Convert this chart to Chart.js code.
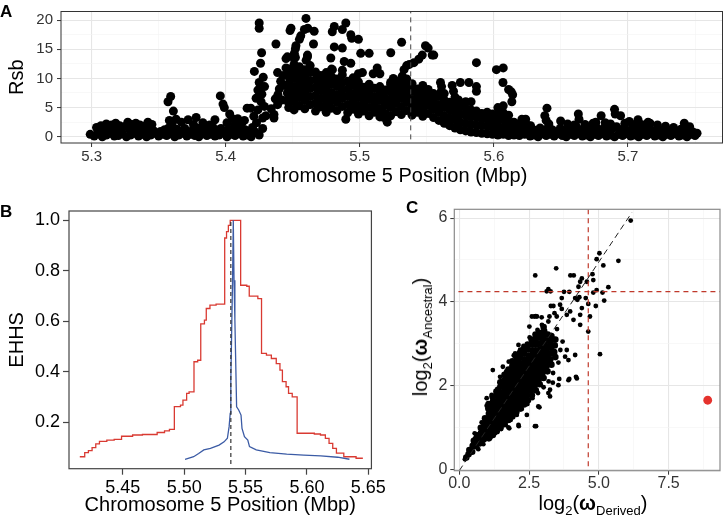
<!DOCTYPE html>
<html>
<head>
<meta charset="utf-8">
<script src="https://cdn.jsdelivr.net/npm/chart.js@4.4.1/dist/chart.umd.min.js"></script>
<style>
  body { margin: 0; background: #fff; font-family: "Liberation Sans", Arial, Helvetica, sans-serif; }
  #page { position: relative; width: 727px; height: 518px; overflow: hidden; background: #fff; }
  canvas, .lbl, .ttl { position: absolute; }
  .lbl { font-weight: bold; font-size: 17px; line-height: 17px; color: #000; }
  .ttl { font-size: 20px; line-height: 20px; color: #000; white-space: nowrap; }
  .ttl sub { font-size: 13px; vertical-align: -5px; line-height: 0; }
</style>
</head>
<body>
<div id="page">
  <canvas id="chartA" width="727" height="192" style="left:0px;top:0px"></canvas>
  <canvas id="chartB" width="390" height="326" style="left:0px;top:192px"></canvas>
  <canvas id="chartC" width="337" height="326" style="left:390px;top:192px"></canvas>
  <div class="lbl" style="left:0px;top:3px">A</div>
  <div class="lbl" style="left:0px;top:203px">B</div>
  <div class="lbl" style="left:406px;top:199px">C</div>
  <div class="ttl" style="left:593px;top:493px;transform:translateX(-50%)">log<sub>2</sub>(<b>ω</b><sub>Derived</sub>)</div>
  <div class="ttl" style="left:420px;top:337px;transform:translate(-50%,-50%) rotate(-90deg)">log<sub>2</sub>(<b>ω</b><sub>Ancestral</sub>)</div>
</div>
<script>
// ---------- panel A : Rsb along chromosome 5 ----------
const aXMajor = [5.3, 5.4, 5.5, 5.6, 5.7];
const aXMinor = [5.35, 5.45, 5.55, 5.65, 5.75];
const aYMajor = [0, 5, 10, 15, 20];
const aYMinor = [2.5, 7.5, 12.5, 17.5];
const focalPos = 5.538;

const rsbBandLeft = [
  [5.299,0.4],[5.302,0.1],[5.305,0.5],[5.308,0.0],[5.311,0.3],[5.314,0.6],[5.317,0.1],[5.320,0.2],[5.323,0.5],[5.326,0.0],
  [5.329,0.3],[5.332,0.6],[5.335,0.1],[5.338,0.4],[5.341,0.0],[5.344,0.3],[5.347,0.6],[5.350,0.1],[5.353,0.4],[5.356,0.2],
  [5.359,0.5],[5.362,0.0],[5.365,0.3],[5.368,0.6],[5.371,0.1],[5.374,0.4],[5.377,0.2],[5.380,0.0],[5.383,0.5],[5.386,0.2],
  [5.389,0.4],[5.392,0.1],[5.395,0.3],[5.398,0.6],[5.401,0.0],[5.404,0.4],[5.407,0.2],[5.410,0.5],[5.413,0.1],[5.416,0.3],[5.419,0.0],
  [5.3037,1.6],[5.3045,1.3],[5.3075,0.9],[5.3105,1.5],[5.3135,1.1],[5.3165,1.7],[5.3195,1.0],[5.3225,1.4],[5.3255,1.8],[5.3285,1.2],
  [5.3315,1.6],[5.3345,0.9],[5.3375,1.5],[5.3405,1.2],[5.3435,1.7],[5.3465,1.0],
  [5.307,1.9],[5.311,2.2],[5.315,2.0],[5.318,2.3],[5.321,1.9],[5.327,2.5],[5.330,2.1],[5.333,2.3],[5.336,2.0],[5.339,1.8],
  [5.342,2.5],[5.345,2.1],
  [5.3515,0.9],[5.3545,1.2],[5.3575,1.5],[5.3605,0.8],[5.3635,1.3],[5.3665,1.0],[5.3695,1.4],[5.3725,0.7],[5.3755,1.2],[5.3785,1.5],
  [5.3815,0.9],[5.3845,1.3],[5.3875,1.0],[5.3905,1.6],[5.3935,1.1],[5.3965,1.4],[5.3995,0.8],[5.4025,1.3],[5.4055,1.0],[5.4085,1.5],
  [5.4115,0.9],[5.4145,1.2],[5.4175,0.7],
  [5.357,6.0],[5.359,6.9],[5.361,4.4],[5.358,2.8],[5.360,2.2],[5.363,3.0],[5.367,2.5],[5.372,2.9],[5.378,3.3],[5.376,2.1],
  [5.383,2.4],[5.388,2.0],[5.392,2.9],[5.396,7.0],[5.398,5.6],[5.399,5.0],[5.403,3.9],[5.405,3.1],[5.409,3.1],[5.401,2.4],
  [5.407,2.0],[5.412,2.3],[5.416,4.9],[5.414,2.8]
];

const rsbRise = [
  [5.4187,4.9],[5.4227,6.6],[5.424,8.0],[5.425,9.3],[5.4214,11.2],[5.426,12.6],[5.4268,14.4],[5.425,18.6],[5.425,19.5],[5.4276,1.4],
  [5.4276,3.2],[5.4264,6.0],[5.4289,5.2],[5.424,4.6],[5.421,3.5],[5.423,2.4],[5.420,1.6],[5.427,7.3],[5.428,10.2],[5.429,8.6],
  [5.430,3.6],[5.422,0.8],[5.425,0.3],
  [5.436,3.8],[5.436,3.2],[5.4387,5.5],[5.440,8.2],[5.4387,11.0],[5.441,9.5],[5.4375,15.9],[5.434,4.8],[5.437,6.5],[5.439,7.2],
  [5.442,6.3],[5.443,10.5],[5.444,8.8],[5.445,11.8],[5.446,7.5],[5.447,5.8],[5.448,9.8]
];

// dense mass: position, then the Rsb values read in that column
const rsbPeakCols = [
  [5.447,[5.0,6.4,7.7,9.1,10.4,11.6]], [5.451,[4.6,6.0,7.3,8.6,10.0,11.3,12.4]], [5.455,[5.3,6.7,8.0,9.4,10.7,12.0]],
  [5.459,[4.8,6.2,7.5,8.9,10.2,11.5]], [5.463,[5.5,6.9,8.3,9.6,11.0,12.2]], [5.467,[4.4,5.8,7.1,8.5,9.8,11.1]],
  [5.471,[5.1,6.5,7.9,9.2,10.5]], [5.475,[4.2,5.6,7.0,8.3,9.7,11.0]], [5.479,[4.9,6.3,7.6,9.0,10.3,11.6]],
  [5.483,[4.5,5.9,7.2,8.6,9.9]], [5.487,[5.2,6.6,8.0,9.3,10.6,11.4]], [5.491,[4.1,5.5,6.9,8.2,9.5]],
  [5.495,[4.7,6.1,7.4,8.8,10.1]], [5.499,[3.9,5.3,6.7,8.0,9.4,10.8]], [5.503,[4.4,5.8,7.1,8.5]],
  [5.507,[3.6,5.0,6.4,7.7,9.0]], [5.511,[4.2,5.6,6.9,8.3]], [5.515,[3.4,4.8,6.2,7.5,8.6]],
  [5.519,[4.0,5.4,6.7,8.0]], [5.523,[3.6,5.0,6.3,7.7,8.9]], [5.527,[4.3,5.7,7.0,8.4,9.6]],
  [5.531,[3.8,5.2,6.6,7.9,9.2]], [5.535,[4.5,5.9,7.3,8.6,9.9]], [5.539,[3.7,5.1,6.4,7.8,9.1]],
  [5.543,[4.2,5.6,6.9,8.2]], [5.547,[3.5,4.9,6.3,7.6,8.8]], [5.551,[4.0,5.4,6.8,8.1]],
  [5.555,[3.3,4.7,6.1,7.4]], [5.559,[2.8,4.2,5.5,6.9]], [5.563,[2.3,3.6,5.0,6.3,7.4]],
  [5.567,[1.9,3.2,4.6,5.9]], [5.571,[1.5,2.9,4.2,5.5,6.8]], [5.575,[1.2,2.5,3.9,5.2]],
  [5.579,[1.0,2.3,3.6,4.9,6.0]], [5.583,[0.8,2.1,3.4,4.6]], [5.587,[0.7,2.0,3.3,4.4]],
  [5.591,[0.6,1.9,3.1,4.0]], [5.595,[0.5,1.8,3.0,4.2]], [5.599,[0.4,1.6,2.8,3.9]],
  [5.603,[0.3,1.5,2.7,3.8,5.0]], [5.607,[0.4,1.6,2.9,4.1,5.3]], [5.611,[0.2,1.4,2.6,3.7]],
  [5.615,[0.3,1.5,2.5]], [5.619,[0.2,1.3,2.2]], [5.623,[0.4,1.2,2.0]], [5.627,[0.1,1.1]]
];

const rsbOutliers = [
  [5.4487,18.6],[5.448,18.2],[5.4599,20.3],[5.4587,18.4],[5.4612,18.6],[5.466,18.1],[5.456,17.3],[5.455,16.7],[5.4524,15.6],[5.452,15.1],
  [5.4512,14.3],[5.446,13.7],[5.445,13.4],[5.452,13.6],[5.4655,15.9],[5.461,14.0],[5.461,13.7],[5.460,13.1],[5.451,13.4],
  [5.481,18.9],[5.4795,18.0],[5.487,18.4],[5.4896,19.5],[5.4933,17.5],[5.494,16.9],[5.499,16.7],[5.481,15.4],[5.487,15.2],[5.5007,14.3],
  [5.507,14.3],[5.5231,14.4],[5.5312,16.2],[5.549,15.6],[5.551,15.2],[5.554,14.0],[5.5466,14.0],[5.544,13.3],[5.5404,12.7],[5.537,12.4],
  [5.535,12.2],[5.4884,12.9],[5.4933,12.6],[5.4784,13.5],[5.4796,11.5],[5.502,11.0],[5.513,11.8],[5.510,10.8],[5.515,10.8],[5.523,9.3],
  [5.525,10.0],[5.5317,10.4],[5.533,11.5],
  [5.4896,3.0],[5.5205,2.5],[5.518,3.3],[5.517,4.1],
  [5.5552,14.0],[5.587,12.7],[5.6019,11.5],[5.607,11.8],[5.6068,9.3],[5.611,8.1],[5.613,7.7],[5.614,7.2],[5.6134,6.0],[5.5602,9.3],
  [5.561,8.6],[5.5689,8.8],[5.575,9.3],[5.5814,9.3],[5.587,8.6],[5.587,7.8],[5.583,6.0],[5.5605,7.7],[5.5699,7.8],[5.5736,6.3],
  [5.6209,3.0],[5.6249,2.0],[5.6237,3.0],[5.6274,1.9],[5.628,0.7]
];

const rsbBandRight = [
  [5.630,0.3],[5.633,0.0],[5.636,0.5],[5.639,0.2],[5.642,0.4],[5.645,0.1],[5.648,0.5],[5.651,0.2],[5.654,0.0],[5.657,0.4],
  [5.660,0.2],[5.663,0.5],[5.666,0.1],[5.669,0.3],[5.672,0.0],[5.675,0.4],[5.678,0.2],[5.681,0.5],[5.684,0.1],[5.687,0.3],
  [5.690,0.0],[5.693,0.4],[5.696,0.2],[5.699,0.5],[5.702,0.1],[5.705,0.3],[5.708,0.0],[5.711,0.4],[5.714,0.2],[5.717,0.5],
  [5.720,0.1],[5.723,0.3],[5.726,0.0],[5.729,0.4],[5.732,0.2],[5.735,0.5],[5.738,0.1],[5.741,0.3],[5.744,0.0],[5.747,0.4],[5.750,0.2],
  [5.6315,1.1],[5.6345,1.5],[5.6375,0.9],[5.6405,1.6],[5.6435,1.2],[5.6465,0.8],[5.6495,1.4],[5.6525,1.0],[5.6555,1.5],[5.6585,1.1],
  [5.6615,1.7],[5.6645,1.2],[5.6675,0.9],[5.6705,1.4],[5.6735,1.1],[5.6765,1.6],[5.6795,1.2],[5.6825,1.5],[5.6855,1.0],[5.6885,1.4],
  [5.6915,1.7],[5.6945,1.2],[5.6975,1.5],[5.7005,1.0],[5.7035,1.6],[5.7065,1.3],[5.7095,1.7],[5.7125,1.1],[5.7155,1.4],[5.7185,1.0],
  [5.7215,1.3],[5.7245,0.9],[5.7275,1.2],[5.7305,0.8],[5.7335,1.1],[5.7365,0.9],[5.7395,1.3],[5.7425,1.5],[5.7455,1.0],[5.7485,0.8],[5.7515,0.6],
  [5.6396,4.9],[5.638,3.6],[5.639,2.8],[5.641,2.2],[5.6498,2.7],[5.655,2.2],[5.660,2.0],[5.663,3.9],[5.6635,3.0],[5.668,2.1],
  [5.674,2.3],[5.676,2.5],[5.680,3.6],[5.683,2.4],[5.687,2.2],[5.690,4.7],[5.6905,3.9],[5.6945,3.6],[5.6977,2.3],[5.701,2.6],
  [5.705,2.1],[5.7075,2.9],[5.709,2.2],[5.712,2.0],[5.715,2.5],[5.7164,2.3],[5.722,2.0],[5.728,1.8],[5.734,1.6],[5.742,2.3],[5.746,1.7]
];

// ---------- panel B : EHHS decay ----------
const bXTicks = [5.45, 5.50, 5.55, 5.60, 5.65];
const bYTicks = [0.2, 0.4, 0.6, 0.8, 1.0];
const ehhsRed = [
  [5.415,0.064],[5.419,0.080],[5.422,0.088],[5.425,0.100],[5.428,0.115],[5.431,0.125],[5.437,0.130],[5.443,0.133],[5.449,0.145],
  [5.458,0.150],[5.466,0.152],[5.478,0.160],[5.484,0.166],[5.488,0.172],[5.492,0.262],[5.497,0.268],[5.499,0.288],[5.502,0.315],
  [5.504,0.321],[5.508,0.440],[5.511,0.446],[5.5135,0.590],[5.5165,0.605],[5.518,0.651],[5.521,0.664],[5.526,0.668],[5.533,0.930],
  [5.5345,0.955],[5.536,0.980],[5.5375,1.000],[5.546,0.743],[5.551,0.739],[5.553,0.700],[5.560,0.690],[5.563,0.473],[5.567,0.466],
  [5.571,0.453],[5.575,0.433],[5.578,0.407],[5.580,0.361],[5.583,0.341],[5.585,0.315],[5.588,0.301],[5.592,0.157],[5.606,0.154],
  [5.611,0.150],[5.615,0.137],[5.618,0.117],[5.621,0.097],[5.624,0.078],[5.630,0.064],[5.640,0.058],[5.645,0.055]
];
const ehhsBlue = [
  [5.5007,0.054],[5.5077,0.064],[5.5118,0.077],[5.516,0.091],[5.5214,0.097],[5.5284,0.110],[5.5325,0.123],[5.5352,0.137],
  [5.5366,0.183],[5.5375,0.236],[5.538,0.367],[5.5388,0.592],[5.5394,0.763],[5.540,1.000],[5.5406,0.763],[5.5413,0.605],
  [5.5427,0.262],[5.5444,0.249],[5.5463,0.229],[5.5471,0.176],[5.5491,0.143],[5.5518,0.130],[5.5532,0.104],[5.5587,0.091],
  [5.5698,0.080],[5.5835,0.074],[5.5974,0.070],[5.6112,0.067],[5.625,0.062],[5.6346,0.054]
];

// ---------- panel C : log2(omega) derived vs ancestral ----------
const cXMajor = [0, 2.5, 5, 7.5];
const cXMinor = [1.25, 3.75, 6.25, 8.75];
const cYMajor = [0, 2, 4, 6];
const cYMinor = [1, 3, 5];
const cutDerived = 4.62;
const cutAncestral = 4.244;
const focalOmega = [[8.9, 1.65]];

const omegaCore = [
  [0.25,0.28],[0.33,0.36],[0.36,0.46],[0.46,0.42],[0.48,0.56],[0.52,0.68],[0.60,0.55],[0.63,0.69],[0.64,0.81],
  [0.74,0.62],[0.76,0.75],[0.78,0.87],[0.77,0.99],[0.88,0.72],[0.90,0.85],[0.91,0.98],[0.89,1.10],[0.92,1.22],
  [1.02,0.83],[1.04,0.95],[1.05,1.08],[1.03,1.20],[1.06,1.33],[1.04,1.45],
  [1.16,0.92],[1.18,1.04],[1.19,1.16],[1.17,1.28],[1.20,1.41],[1.18,1.53],[1.21,1.63],
  [1.30,1.01],[1.32,1.13],[1.33,1.26],[1.31,1.38],[1.34,1.50],[1.32,1.62],[1.35,1.75],
  [1.44,1.11],[1.46,1.24],[1.47,1.36],[1.45,1.48],[1.48,1.60],[1.46,1.72],[1.49,1.84],[1.47,1.97],
  [1.58,1.19],[1.60,1.32],[1.61,1.44],[1.59,1.56],[1.62,1.68],[1.60,1.80],[1.63,1.92],[1.61,2.04],[1.64,2.15],
  [1.72,1.29],[1.74,1.42],[1.75,1.54],[1.73,1.66],[1.76,1.78],[1.74,1.90],[1.77,2.02],[1.75,2.14],[1.78,2.27],
  [1.86,1.37],[1.88,1.50],[1.89,1.62],[1.87,1.74],[1.90,1.86],[1.88,1.98],[1.91,2.10],[1.89,2.22],[1.92,2.35],[1.90,2.47],
  [2.00,1.47],[2.02,1.60],[2.03,1.72],[2.01,1.84],[2.04,1.96],[2.02,2.08],[2.05,2.20],[2.03,2.32],[2.06,2.44],[2.04,2.58],
  [2.14,1.56],[2.16,1.68],[2.17,1.80],[2.15,1.92],[2.18,2.04],[2.16,2.16],[2.19,2.28],[2.17,2.40],[2.20,2.52],[2.18,2.66],
  [2.28,1.66],[2.30,1.78],[2.31,1.90],[2.29,2.02],[2.32,2.14],[2.30,2.26],[2.33,2.38],[2.31,2.50],[2.34,2.62],[2.32,2.76],
  [2.42,1.76],[2.44,1.88],[2.45,2.00],[2.43,2.12],[2.46,2.24],[2.44,2.36],[2.47,2.48],[2.45,2.60],[2.48,2.72],[2.46,2.86],
  [2.56,1.88],[2.58,2.00],[2.59,2.12],[2.57,2.24],[2.60,2.36],[2.58,2.48],[2.61,2.60],[2.59,2.72],[2.62,2.84],[2.60,2.98],
  [2.70,2.00],[2.72,2.12],[2.73,2.24],[2.71,2.36],[2.74,2.48],[2.72,2.60],[2.75,2.72],[2.73,2.84],[2.76,2.98],[2.74,3.10],
  [2.84,2.14],[2.86,2.26],[2.87,2.38],[2.85,2.50],[2.88,2.62],[2.86,2.74],[2.89,2.86],[2.87,3.00],[2.90,3.14],
  [2.98,2.30],[3.00,2.42],[3.01,2.54],[2.99,2.66],[3.02,2.78],[3.00,2.90],[3.03,3.04],[3.01,3.18],[3.04,3.30],
  [3.12,2.46],[3.14,2.58],[3.15,2.70],[3.13,2.82],[3.16,2.94],[3.14,3.08],[3.17,3.22],
  [3.26,2.62],[3.28,2.76],[3.29,2.90],[3.27,3.04],[3.30,3.18],[3.40,2.80],[3.42,2.96],[3.44,3.10],
  [1.05,1.56],[1.19,1.74],[1.33,1.86],[1.47,2.08],[1.62,2.26],[1.76,2.38],[1.90,2.58],[2.03,2.70],[2.17,2.78],[2.31,2.88],
  [2.45,2.98],[2.59,3.10],[2.73,3.22],[2.88,3.26],[3.02,3.40],
  [1.06,0.74],[1.20,0.82],[1.34,0.91],[1.48,1.01],[1.62,1.08],[1.76,1.18],[1.90,1.26],[2.04,1.36],[2.18,1.45],[2.32,1.55],
  [2.46,1.65],[2.60,1.77],[2.74,1.89],[2.88,2.03],[3.02,2.18],[3.16,2.34],[3.30,2.50],[3.44,2.68]
];
const omegaSparse = [
  [0.20,0.24],[0.44,0.50],[0.56,0.74],[0.55,0.86],[0.68,0.48],[0.80,1.12],[0.86,0.60],[0.98,1.52],[0.98,1.70],[1.12,0.76],
  [1.16,1.78],[1.20,2.37],[1.28,0.86],[1.36,1.92],[1.46,2.21],[1.50,0.96],[1.52,2.12],[1.56,2.45],[1.66,1.06],[1.68,2.34],
  [1.77,2.57],[1.76,1.00],[1.79,0.98],[1.84,1.18],[1.95,2.72],[2.00,2.77],[2.06,1.30],[2.12,2.97],[2.12,1.06],[2.13,1.03],
  [2.18,2.86],[2.24,1.44],[2.30,2.95],[2.42,1.30],[2.44,1.56],[2.51,3.41],[2.52,3.15],[2.60,3.65],[2.62,1.70],[2.69,3.65],
  [2.71,1.03],[2.74,3.66],[2.72,4.63],[2.75,1.03],[2.78,3.65],[2.80,3.33],[2.82,1.82],[2.83,1.50],[2.87,1.48],[2.95,3.63],
  [2.96,3.45],[3.02,1.96],[3.19,1.82],[3.19,3.53],[3.19,4.30],[3.13,4.25],[3.20,2.10],[3.23,3.65],[3.25,1.90],[3.25,1.74],
  [3.27,4.25],[3.28,3.90],[3.35,2.07],[3.36,2.30],[3.37,3.90],[3.41,3.73],[3.47,4.80],[3.49,3.65],[3.50,3.35],[3.55,2.01],
  [3.55,2.55],[3.58,2.16],[3.61,3.93],[3.62,2.85],[3.67,4.09],[3.67,3.83],[3.70,3.05],[3.75,4.24],[3.79,2.69],[3.85,2.85],
  [3.85,3.69],[3.91,2.61],[3.91,2.13],[3.94,4.24],[3.94,2.16],[3.97,3.77],[3.98,4.63],[4.10,4.63],[4.09,3.57],[4.15,4.09],
  [4.15,2.73],[4.18,2.21],[4.21,2.17],[4.23,4.05],[4.27,4.36],[4.30,4.11],[4.33,4.48],[4.33,3.69],[4.33,3.45],[4.39,4.56],
  [4.39,3.85],[4.53,4.09],[4.57,4.48],[4.62,3.95],[4.62,3.29],[4.68,3.65],[4.77,4.66],[4.80,4.52],[4.80,4.22],[4.89,3.90],
  [4.92,5.02],[4.92,4.28],[5.02,5.16],[5.04,2.75],[5.13,4.22],[5.16,4.87],[5.19,4.03],[5.34,4.35],[5.70,4.98],[6.14,5.94]
];

// ---------- helpers ----------
const FONT = '"Liberation Sans", Arial, Helvetica, sans-serif';
Chart.defaults.font.family = FONT;
Chart.defaults.color = '#000';

const pts = arr => arr.map(([x, y]) => ({ x, y }));
const tickList = (major, minor) => major.map(v => ({ value: v }))
  .concat((minor || []).map(v => ({ value: v, minor: true })))
  .sort((a, b) => a.value - b.value);
const isMinor = c => !!(c.tick && c.tick.minor);

const frame = {
  id: 'frame',
  afterDatasetsDraw(chart, args, opts) {
    const { ctx, chartArea: a } = chart;
    ctx.save();
    ctx.strokeStyle = opts.color;
    ctx.lineWidth = opts.width;
    ctx.strokeRect(a.left, a.top, a.right - a.left, a.bottom - a.top);
    ctx.restore();
  }
};

const ggGrid = {
  color: c => isMinor(c) ? '#F3F3F3' : '#E6E6E6',
  lineWidth: c => isMinor(c) ? 0.6 : 1.1,
  tickColor: c => isMinor(c) ? 'rgba(0,0,0,0)' : '#333',
  tickWidth: 1,
  tickLength: 4
};

const base = {
  responsive: false, animation: false, devicePixelRatio: 1,
  plugins: { legend: { display: false }, tooltip: { enabled: false } }
};

// ---------- chart A ----------
const rsbAll = pts(rsbBandLeft.concat(rsbRise, rsbOutliers, rsbBandRight))
  .concat(rsbPeakCols.flatMap(([x, ys]) => ys.map(y => ({ x, y }))));

new Chart(document.getElementById('chartA'), {
  type: 'scatter',
  data: {
    datasets: [
      { type: 'line', data: [{ x: focalPos, y: -2 }, { x: focalPos, y: 23 }], borderColor: '#444',
        borderWidth: 1, borderDash: [5, 4], pointRadius: 0 },
      { data: rsbAll, pointRadius: 4.5, backgroundColor: '#000', borderWidth: 0 }
    ]
  },
  options: {
    ...base,
    layout: { padding: { top: 6, right: 1.5, left: 0, bottom: 0 } },
    plugins: { ...base.plugins, frame: { color: '#333', width: 1 } },
    scales: {
      x: {
        type: 'linear', min: 5.2772, max: 5.7705,
        afterBuildTicks: s => { s.ticks = tickList(aXMajor, aXMinor); },
        afterFit: s => { s.height = 49; },
        grid: ggGrid, border: { display: false },
        ticks: { autoSkip: false, maxRotation: 0, padding: 2, color: '#333',
          font: { size: 15, lineHeight: 1 }, callback: (v, i, t) => t[i].minor ? '' : v.toFixed(1) },
        title: { display: true, text: 'Chromosome 5 Position (Mbp)', font: { size: 20, lineHeight: 1 },
          padding: { top: 0, bottom: 6 } }
      },
      y: {
        min: -1.08, max: 21.48,
        afterBuildTicks: s => { s.ticks = tickList(aYMajor, aYMinor); },
        afterFit: s => { s.width = 61; },
        grid: ggGrid, border: { display: false },
        ticks: { autoSkip: false, padding: 4, color: '#333', font: { size: 15, lineHeight: 1 },
          callback: (v, i, t) => t[i].minor ? '' : String(v) },
        title: { display: true, text: 'Rsb', font: { size: 20, lineHeight: 1 }, padding: { top: 7.5, bottom: 0 } }
      }
    }
  },
  plugins: [frame]
});

// ---------- chart B ----------
new Chart(document.getElementById('chartB'), {
  type: 'scatter',
  data: {
    datasets: [
      { type: 'line', data: [{ x: focalPos, y: 0.035 }, { x: focalPos, y: 1.0 }], borderColor: '#333',
        borderWidth: 1.2, borderDash: [4, 3], pointRadius: 0 },
      { type: 'line', data: pts(ehhsBlue), borderColor: '#3b5ba5', borderWidth: 1.3, pointRadius: 0, tension: 0 },
      { type: 'line', data: pts(ehhsRed), borderColor: '#d93a32', borderWidth: 1.3, pointRadius: 0, stepped: true }
    ]
  },
  options: {
    ...base,
    layout: { padding: { top: 19, right: 13, left: 0, bottom: 0 } },
    plugins: { ...base.plugins, frame: { color: '#444', width: 1.2 } },
    scales: {
      x: {
        type: 'linear', min: 5.4062, max: 5.6525,
        afterBuildTicks: s => { s.ticks = tickList(bXTicks); },
        afterFit: s => { s.height = 49.3; },
        grid: { drawOnChartArea: false, tickLength: 6, tickColor: '#444', tickWidth: 1.2 },
        border: { display: false },
        ticks: { autoSkip: false, maxRotation: 0, padding: 4, color: '#000', font: { size: 18, lineHeight: 1 },
          callback: v => v.toFixed(2) },
        title: { display: true, text: 'Chromosome 5 Position (Mbp)', font: { size: 20, lineHeight: 1 },
          padding: { top: 0, bottom: 2.5 } }
      },
      y: {
        min: 0.0166, max: 1.037,
        afterBuildTicks: s => { s.ticks = tickList(bYTicks); },
        afterFit: s => { s.width = 69; },
        grid: { drawOnChartArea: false, tickLength: 6, tickColor: '#444', tickWidth: 1.2 },
        border: { display: false },
        ticks: { autoSkip: false, padding: 3, color: '#000', font: { size: 18, lineHeight: 1 },
          callback: v => v.toFixed(1) },
        title: { display: true, text: 'EHHS', font: { size: 20, lineHeight: 1 }, padding: { top: 7, bottom: 0 } }
      }
    }
  },
  plugins: [frame]
});

// ---------- chart C ----------
new Chart(document.getElementById('chartC'), {
  type: 'scatter',
  data: {
    datasets: [
      { data: pts(focalOmega), pointRadius: 4.4, backgroundColor: '#e5322d', borderWidth: 0 },
      { type: 'line', data: [{ x: 0, y: -0.03 }, { x: 6.18, y: 6.13 }], borderColor: '#222',
        borderWidth: 1, borderDash: [6, 4], pointRadius: 0 },
      { type: 'line', data: [{ x: cutDerived, y: -1 }, { x: cutDerived, y: 7 }], borderColor: '#c0392b',
        borderWidth: 1.2, borderDash: [5, 4], pointRadius: 0 },
      { type: 'line', data: [{ x: -1, y: cutAncestral }, { x: 10, y: cutAncestral }], borderColor: '#c0392b',
        borderWidth: 1.2, borderDash: [5, 4], pointRadius: 0 },
      { data: pts(omegaSparse), pointRadius: 2.4, backgroundColor: '#000', borderWidth: 0 },
      { data: pts(omegaCore), pointRadius: 3.3, backgroundColor: '#000', borderWidth: 0 }
    ]
  },
  options: {
    ...base,
    layout: { padding: { top: 17.3, right: 7, left: 0, bottom: 0 } },
    plugins: { ...base.plugins, frame: { color: '#8a8a8a', width: 1.2 } },
    scales: {
      x: {
        type: 'linear', min: -0.18, max: 9.34,
        afterBuildTicks: s => { s.ticks = tickList(cXMajor, cXMinor); },
        afterFit: s => { s.height = 47.3; },
        grid: ggGrid, border: { display: false },
        ticks: { autoSkip: false, maxRotation: 0, padding: 1, color: '#333', font: { size: 16, lineHeight: 1 },
          callback: (v, i, t) => t[i].minor ? '' : v.toFixed(1) }
      },
      y: {
        min: -0.033, max: 6.21,
        afterBuildTicks: s => { s.ticks = tickList(cYMajor, cYMinor); },
        afterFit: s => { s.width = 64.3; },
        grid: ggGrid, border: { display: false },
        ticks: { autoSkip: false, padding: 3, color: '#333', font: { size: 16, lineHeight: 1 },
          callback: (v, i, t) => t[i].minor ? '' : String(v) }
      }
    }
  },
  plugins: [frame]
});
</script>
</body>
</html>
